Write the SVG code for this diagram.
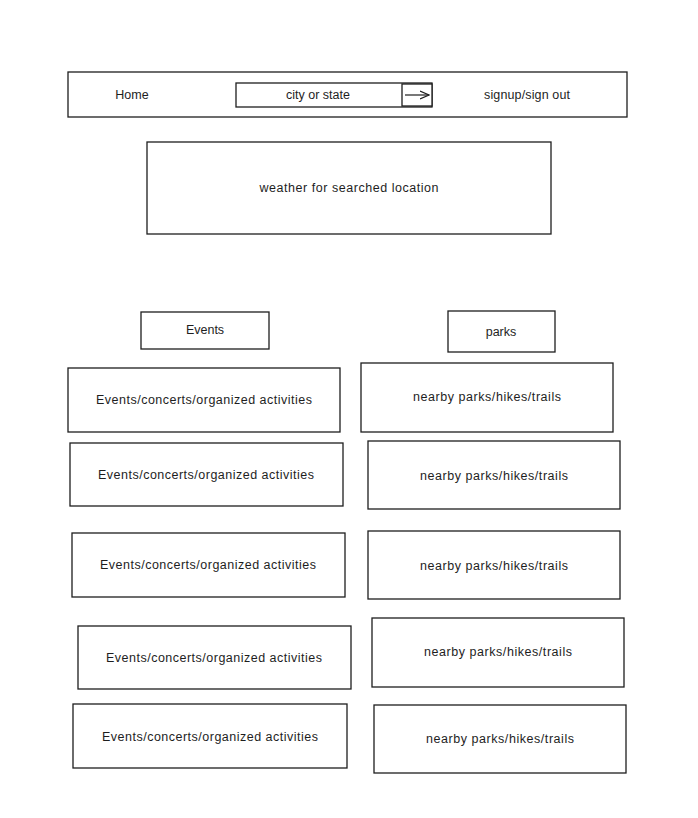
<svg xmlns="http://www.w3.org/2000/svg" width="698" height="818" viewBox="0 0 698 818">
<style>
.box{fill:#ffffff;stroke:#1e1e1e;stroke-width:1.3}
.t{font-family:"Liberation Sans",Arial,sans-serif;font-size:12.5px;fill:#1e1e1e;text-anchor:middle;dominant-baseline:central}
</style>
<defs>
<marker id="ah" viewBox="0 0 10 10" refX="9" refY="5" markerWidth="10" markerHeight="10" orient="auto" markerUnits="userSpaceOnUse">
<path d="M0,1 L9,5 L0,9" fill="none" stroke="#1e1e1e" stroke-width="1.2"/>
</marker>
</defs>
<rect width="698" height="818" fill="#ffffff"/>
<g id="navbar">
<rect class="box" x="68" y="72" width="559" height="45"/>
<text class="t" x="132" y="95">Home</text>
<text class="t" x="527" y="95" textLength="86">signup/sign out</text>
</g>
<g id="search">
<rect class="box" x="236" y="83" width="196" height="24"/>
<text class="t" x="318" y="95">city or state</text>
<rect class="box" x="402" y="84" width="30" height="22" fill="none"/>
</g>
<g id="connectors">
<line x1="405" y1="95" x2="429" y2="95" stroke="#1e1e1e" stroke-width="1.2" marker-end="url(#ah)"/>
</g>
<g id="weather">
<rect class="box" x="147" y="142" width="404" height="92"/>
<text class="t" x="349" y="188" textLength="179">weather for searched location</text>
</g>
<g id="events-header">
<rect class="box" x="141" y="312" width="128" height="37"/>
<text class="t" x="205" y="330">Events</text>
</g>
<g id="parks-header">
<rect class="box" x="448" y="311" width="107" height="41"/>
<text class="t" x="501" y="332">parks</text>
</g>
<g id="event-1">
<rect class="box" x="68" y="368" width="272" height="64"/>
<text class="t" x="204" y="400" textLength="216">Events/concerts/organized activities</text>
</g>
<g id="event-2">
<rect class="box" x="70" y="443" width="273" height="63"/>
<text class="t" x="206" y="475" textLength="216">Events/concerts/organized activities</text>
</g>
<g id="event-3">
<rect class="box" x="72" y="533" width="273" height="64"/>
<text class="t" x="208" y="565" textLength="216">Events/concerts/organized activities</text>
</g>
<g id="event-4">
<rect class="box" x="78" y="626" width="273" height="63"/>
<text class="t" x="214" y="658" textLength="216">Events/concerts/organized activities</text>
</g>
<g id="event-5">
<rect class="box" x="73" y="704" width="274" height="64"/>
<text class="t" x="210" y="737" textLength="216">Events/concerts/organized activities</text>
</g>
<g id="park-1">
<rect class="box" x="361" y="363" width="252" height="69"/>
<text class="t" x="487" y="397" textLength="148">nearby parks/hikes/trails</text>
</g>
<g id="park-2">
<rect class="box" x="368" y="441" width="252" height="68"/>
<text class="t" x="494" y="476" textLength="148">nearby parks/hikes/trails</text>
</g>
<g id="park-3">
<rect class="box" x="368" y="531" width="252" height="68"/>
<text class="t" x="494" y="566" textLength="148">nearby parks/hikes/trails</text>
</g>
<g id="park-4">
<rect class="box" x="372" y="618" width="252" height="69"/>
<text class="t" x="498" y="652" textLength="148">nearby parks/hikes/trails</text>
</g>
<g id="park-5">
<rect class="box" x="374" y="705" width="252" height="68"/>
<text class="t" x="500" y="739" textLength="148">nearby parks/hikes/trails</text>
</g>
</svg>
